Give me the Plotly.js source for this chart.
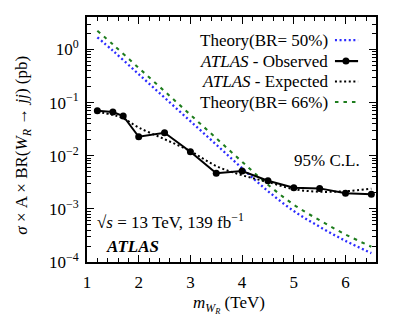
<!DOCTYPE html>
<html>
<head>
<meta charset="utf-8">
<script src="https://cdn.plot.ly/plotly-3.0.1.min.js"></script>
<style>html,body{margin:0;padding:0;background:#fff;}#chart{width:408px;height:319px;}</style>
</head>
<body>
<div id="chart"></div>
<script>
// Data
const massObs = [1.2, 1.5, 1.7, 2.0, 2.5, 3.0, 3.5, 4.0, 4.5, 5.0, 5.5, 6.0, 6.5];
const observed = [0.0703, 0.0665, 0.056, 0.0228, 0.0271, 0.0119, 0.00467, 0.00515, 0.00338, 0.00249, 0.00243, 0.00196, 0.00188];
const expected = [0.067, 0.059, 0.0506, 0.034, 0.0205, 0.0122, 0.0064, 0.0043, 0.0032, 0.00235, 0.0021, 0.00215, 0.0024];
const massTh = [1.2, 1.5, 2.0, 2.5, 3.0, 3.5, 4.0, 4.5, 5.0, 5.5, 6.0, 6.5];
const theory50 = [1.7, 0.95, 0.343, 0.124, 0.0447, 0.0162, 0.00582, 0.00216, 0.00091, 0.00046, 0.00025, 0.000147];
const theory66 = [2.25, 1.25, 0.45, 0.164, 0.059, 0.0214, 0.0077, 0.00285, 0.0012, 0.00061, 0.00033, 0.000194];
const xTicks = [1, 2, 3, 4, 5, 6];
const yTicks = [1e-4, 1e-3, 1e-2, 1e-1, 1];
const yTickText = ['10<sup>−4</sup>', '10<sup>−3</sup>', '10<sup>−2</sup>', '10<sup>−1</sup>', '10<sup>0</sup>'];
const legendLabels = ['Theory(BR= 50%)', '<i>ATLAS</i> - Observed', '<i>ATLAS</i> - Expected', 'Theory(BR= 66%)'];
const xTitle = '<i>m</i><sub><i>W<sub>R</sub></i></sub> (TeV)';
const yTitle = '<i>σ</i> × A × BR(<i>W<sub>R</sub></i> → <i>jj</i>) (pb)';

const FONT = 'Liberation Serif';
const blue = '#2b2bff', green = '#1e7d1e';

const traces = [
  {x: massTh, y: theory50, mode: 'lines', line: {color: blue, width: 2.3, dash: '2px,2.6px', shape: 'spline'}, name: legendLabels[0]},
  {x: massTh, y: theory66, mode: 'lines', line: {color: green, width: 2.1, dash: '3.5px,5px', shape: 'spline'}, name: legendLabels[3]},
  {x: massObs, y: expected, mode: 'lines', line: {color: 'black', width: 2, dash: '2px,2.6px', shape: 'spline'}, name: legendLabels[2]},
  {x: massObs, y: observed, mode: 'lines+markers', line: {color: 'black', width: 2}, marker: {color: 'black', size: 7}, name: legendLabels[1]}
];

const rowsY = [0.906, 0.820, 0.737, 0.653];
const legStyles = [
  {color: blue, width: 2.3, dash: '2px,2.6px'},
  {color: 'black', width: 2.2},
  {color: 'black', width: 2, dash: '2px,2.6px'},
  {color: green, width: 2.1, dash: '3.5px,5px'}
];
const shapes = [];
const annotations = [];
legendLabels.forEach((t, i) => {
  annotations.push({text: t, xref: 'paper', yref: 'paper', x: 0.84, y: rowsY[i], xanchor: 'right', yanchor: 'middle', showarrow: false, font: {family: FONT, size: 17}});
  shapes.push({type: 'line', xref: 'paper', yref: 'paper', x0: 0.858, x1: 0.938, y0: rowsY[i], y1: rowsY[i], line: legStyles[i]});
});
shapes.push({type: 'circle', xref: 'paper', yref: 'paper', xsizemode: 'pixel', ysizemode: 'pixel', xanchor: 0.896, yanchor: rowsY[1], x0: -3.5, x1: 3.5, y0: -3.5, y1: 3.5, fillcolor: 'black', line: {width: 0}});

annotations.push({text: '95% C.L.', xref: 'paper', yref: 'paper', x: 0.829, y: 0.416, xanchor: 'center', yanchor: 'middle', showarrow: false, font: {family: FONT, size: 17}});
annotations.push({text: '√<i>s</i> = 13 TeV, 139 fb<sup>−1</sup>', xref: 'paper', yref: 'paper', x: 0.026, y: 0.166, xanchor: 'left', yanchor: 'middle', showarrow: false, font: {family: FONT, size: 17}});
annotations.push({text: '<b><i>ATLAS</i></b>', xref: 'paper', yref: 'paper', x: 0.058, y: 0.062, xanchor: 'left', yanchor: 'middle', showarrow: false, font: {family: FONT, size: 17}});
// axis titles
annotations.push({text: xTitle, xref: 'paper', yref: 'paper', x: 0.49, y: -0.175, xanchor: 'center', yanchor: 'middle', showarrow: false, font: {family: FONT, size: 17}});
annotations.push({text: yTitle, xref: 'paper', yref: 'paper', x: -0.222, y: 0.478, xanchor: 'center', yanchor: 'middle', textangle: -90, showarrow: false, font: {family: FONT, size: 17}});

const layout = {
  width: 408, height: 319,
  margin: {l: 87, r: 32, t: 17, b: 57},
  paper_bgcolor: 'white', plot_bgcolor: 'white',
  font: {family: FONT, size: 17, color: 'black'},
  showlegend: false,
  xaxis: {
    range: [1, 6.59], tickvals: xTicks, ticks: 'inside', ticklen: 7, tickwidth: 1, tickcolor: 'black',
    showline: true, linewidth: 2, linecolor: 'black', mirror: 'ticks', showgrid: false, zeroline: false,
    minor: {dtick: 0.2, ticks: 'inside', ticklen: 4, tickwidth: 1, tickcolor: 'black', showgrid: false},
    ticklabelstandoff: 4,
    tickfont: {family: FONT, size: 17}
  },
  yaxis: {
    type: 'log', range: [-4, 0.612], tickvals: yTicks, ticktext: yTickText, ticks: 'inside', ticklen: 7, tickwidth: 1, tickcolor: 'black',
    showline: true, linewidth: 2, linecolor: 'black', mirror: 'ticks', showgrid: false, zeroline: false,
    minor: {dtick: 'D1', ticks: 'inside', ticklen: 4, tickwidth: 1, tickcolor: 'black', showgrid: false},
    ticklabelstandoff: 3,
    tickfont: {family: FONT, size: 17}
  },
  shapes: shapes,
  annotations: annotations
};

Plotly.newPlot('chart', traces, layout, {displayModeBar: false, staticPlot: true});
</script>
</body>
</html>
